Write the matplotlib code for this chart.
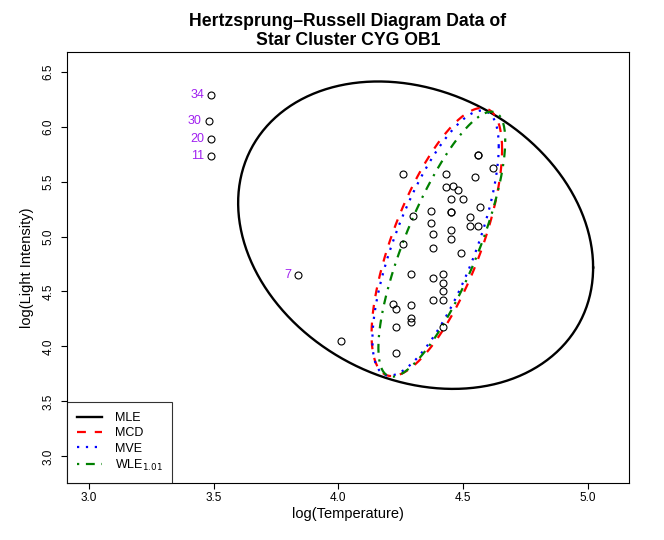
import numpy as np
import matplotlib
matplotlib.use("Agg")
import matplotlib.pyplot as plt

plt.rcParams['font.family'] = ['Liberation Sans', 'DejaVu Sans']

# starsCYG data (Hertzsprung-Russell, star cluster CYG OB1)
log_te = [4.37, 4.56, 4.26, 4.56, 4.30, 4.46, 3.84, 4.57, 4.26, 4.37,
          3.49, 4.43, 4.48, 4.01, 4.29, 4.42, 4.23, 4.42, 4.23, 3.49,
          4.29, 4.29, 4.42, 4.49, 4.38, 4.42, 4.29, 4.38, 4.22, 3.48,
          4.38, 4.56, 4.45, 3.49, 4.23, 4.62, 4.53, 4.45, 4.53, 4.43,
          4.38, 4.45, 4.50, 4.45, 4.55, 4.45, 4.42]
log_light = [5.23, 5.74, 4.93, 5.74, 5.19, 5.46, 4.65, 5.27, 5.57, 5.12,
             5.73, 5.45, 5.42, 4.05, 4.26, 4.58, 3.94, 4.18, 4.18, 5.89,
             4.38, 4.22, 4.42, 4.85, 5.02, 4.66, 4.66, 4.90, 4.39, 6.05,
             4.42, 5.10, 5.22, 6.29, 4.34, 5.62, 5.10, 5.22, 5.18, 5.57,
             4.62, 5.06, 5.34, 5.34, 5.54, 4.98, 4.50]
labelled = [7, 11, 20, 30, 34]

# robust location / scatter estimates
mcd_center = [4.395, 4.95]
mcd_cov = [[0.01144, 0.0367], [0.0367, 0.2483]]
mve_center = [4.39, 4.94]
mve_cov = [[0.01071, 0.0372], [0.0372, 0.2426]]
wle_center = [4.415, 4.93]
wle_cov = [[0.01080, 0.0400], [0.0400, 0.2425]]

chi2_95 = 5.9915  # qchisq(0.95, 2)


def ellipse(center, cov, n=300):
    t = np.linspace(0, 2 * np.pi, n)
    L = np.linalg.cholesky(np.array(cov))
    pts = np.sqrt(chi2_95) * L @ np.vstack([np.cos(t), np.sin(t)])
    return pts[0] + center[0], pts[1] + center[1]


x = np.array(log_te)
y = np.array(log_light)
mle_center = [x.mean(), y.mean()]
mle_cov = np.cov(np.vstack([x, y]))

fig = plt.figure(figsize=(6.64, 5.4), dpi=100)
ax = fig.add_axes([0.101, 0.106, 0.846, 0.798])

ax.plot(x, y, 'o', mfc='none', mec='black', ms=5, mew=0.8, zorder=3)
for i in labelled:
    ax.annotate(str(i), (x[i - 1], y[i - 1]), xytext=(-5, 0), textcoords='offset points',
                ha='right', va='center', color='#A020F0', fontsize=9)

ex, ey = ellipse(mle_center, mle_cov)
ax.plot(ex, ey, color='black', lw=1.7, label='MLE')
ex, ey = ellipse(mcd_center, mcd_cov)
ax.plot(ex, ey, color='red', lw=1.6, ls=(0, (4, 4)), label='MCD')
ex, ey = ellipse(mve_center, mve_cov)
ax.plot(ex, ey, color='blue', lw=1.6, ls=(0, (1, 3)), label='MVE')
ex, ey = ellipse(wle_center, wle_cov)
ax.plot(ex, ey, color='green', lw=1.6, ls=(0, (1, 3, 4, 3)), label='WLE$_{1.01}$')

ax.set_xlim(2.912, 5.165)
ax.set_ylim(2.76, 6.68)
ax.set_xticks([3.0, 3.5, 4.0, 4.5, 5.0])
ax.set_yticks([3.0, 3.5, 4.0, 4.5, 5.0, 5.5, 6.0, 6.5])
ax.set_xticklabels(['3.0', '3.5', '4.0', '4.5', '5.0'])
ax.set_yticklabels(['3.0', '3.5', '4.0', '4.5', '5.0', '5.5', '6.0', '6.5'],
                   rotation=90, va='center')
ax.tick_params(direction='out', length=4, labelsize=8.5, pad=3)
ax.tick_params(axis='y', pad=5)
for s in ax.spines.values():
    s.set_linewidth(0.8)

ax.set_xlabel('log(Temperature)', fontsize=10.5, labelpad=2)
ax.set_ylabel('log(Light Intensity)', fontsize=10.5, labelpad=6)
ax.set_title('Hertzsprung\u2013Russell Diagram Data of\nStar Cluster CYG OB1',
             fontsize=12.7, fontweight='bold', pad=5, linespacing=1.15)

leg = ax.legend(loc='lower left', borderaxespad=0, fancybox=False, fontsize=9,
                handlelength=2.0, labelspacing=0.25, borderpad=0.8, handletextpad=1.0)
leg.get_frame().set_edgecolor('black')
leg.get_frame().set_linewidth(0.8)

fig.savefig('out.png', dpi=100)
